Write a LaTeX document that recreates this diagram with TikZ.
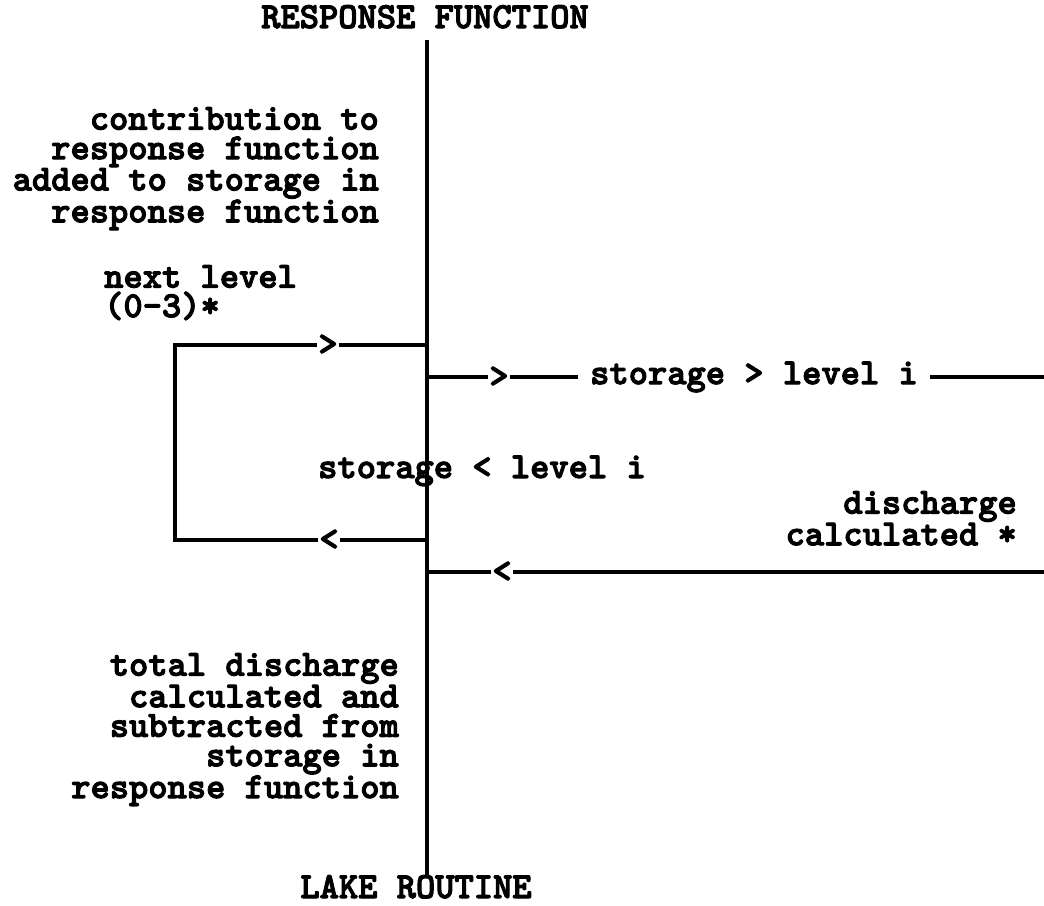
\documentclass[tikz,border=0pt]{standalone}
\usepackage{fontspec}
\newfontfamily\typew{lmmonolt10-bold}[Extension=.otf, FakeBold=2.8]
\begin{document}
\begin{tikzpicture}[x=1pt,y=-1pt,
  every node/.style={inner sep=0pt},
  lbl/.style={font=\fontsize{36.7}{29.5}\selectfont\typew},
  wire/.style={line width=3.5pt},
  trunk/.style={line width=4.5pt},
  chev/.style={lbl, inner xsep=1pt}]
\useasboundingbox (0,0) rectangle (1044,905);

% end labels of the main channel
\node[lbl, anchor=base] (title) at (425,28) {RESPONSE FUNCTION};
\node[lbl, anchor=base] (lake) at (416,898) {LAKE ROUTINE};

% junctions on the main channel
\coordinate (top) at (427,40);
\coordinate (bot) at (427,878);
\coordinate (jA) at (427,345);
\coordinate (jB) at (427,377);
\coordinate (jC) at (427,540);
\coordinate (jD) at (427,572);
% loop corners and right-hand ends
\coordinate (lA) at (175,345);
\coordinate (lC) at (175,540);
\coordinate (rB) at (1044,377);
\coordinate (rD) at (1044,572);

\draw[trunk] (top) -- (bot);

% flow direction marks
\node[chev] (c1) at (328,345) {>};
\node[chev] (c2) at (499,377) {>};
\node[chev] (c3) at (329,540) {<};
\node[chev] (c4) at (502,572) {<};

% text blocks
\node[lbl, align=right, anchor=north east] (contrib) at (379,107)
  {contribution to\\response function\\added to storage in\\response function};
\node[lbl, align=left, anchor=north west] (next) at (104,265)
  {next level\\(0-3)*};
\node[lbl, anchor=west, inner xsep=12pt] (more) at (578,377) {storage > level i};
\node[lbl, anchor=base west] (less) at (318,478) {storage < level i};
\node[lbl, align=right, anchor=north east] (disc) at (1017,491)
  {discharge\\calculated *};
\node[lbl, align=right, anchor=north east] (total) at (399,653)
  {total discharge\\calculated and\\subtracted from\\storage in\\response function};

% loop back to the next level
\draw[wire] (jC) -- (c3) -- (lC) -- (lA) -- (c1) -- (jA);
% branch when storage exceeds the level
\draw[wire] (jB) -- (c2) -- (more) -- (rB);
% discharge returned to the main channel
\draw[wire] (rD) -- (c4) -- (jD);
\end{tikzpicture}
\end{document}
